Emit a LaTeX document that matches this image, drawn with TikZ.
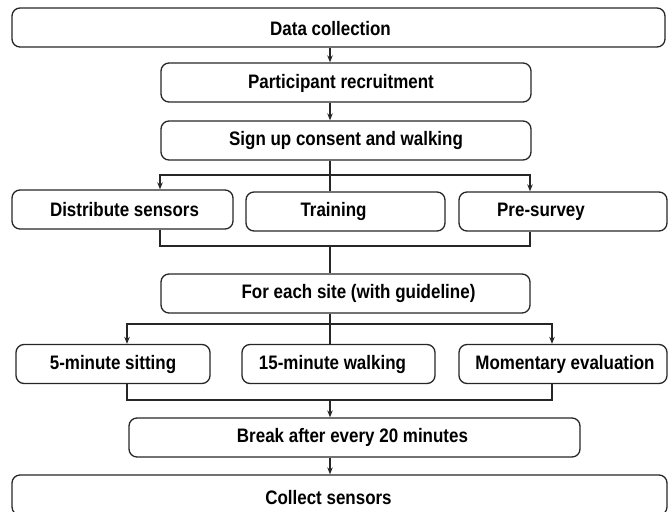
\documentclass[tikz,border=0pt]{standalone}
\usepackage{fontspec}
\setmainfont{Liberation Sans}
\newfontfamily\narrowfont[FakeStretch=0.87]{Liberation Sans}
\usetikzlibrary{arrows.meta}
\tikzset{
  box/.style={draw=black!85, line width=1.3pt, rounded corners=8pt, minimum height=39pt, inner sep=0pt},
  txt/.style={font=\narrowfont\fontsize{19.5}{22}\selectfont\bfseries},
  arr/.style={-{Stealth[length=7pt,width=5.5pt]}},
}
\begin{document}
\begin{tikzpicture}[x=1pt, y=-1pt]
      \useasboundingbox (0,0) rectangle (668,511);
      \node[box, minimum width=653pt, label={[txt, xshift=-8pt, yshift=-1pt]center:Data collection}] (data) at (338.5,27.5) {};
      \node[box, minimum width=370pt, label={[txt, xshift=-5pt, yshift=-1pt]center:Participant recruitment}] (recruit) at (346,82.5) {};
      \node[box, minimum width=370pt, label={[txt]center:Sign up consent and walking}] (sign) at (346,140.5) {};
      \node[box, minimum width=221pt, label={[txt, xshift=2pt]center:Distribute sensors}] (dist) at (122.5,209.5) {};
      \node[box, minimum width=199pt, label={[txt, xshift=-12pt]center:Training}] (train) at (345.5,211.5) {};
      \node[box, minimum width=208pt, label={[txt, xshift=-22pt]center:Pre-survey}] (pre) at (563,211.5) {};
      \node[box, minimum width=369pt, label={[txt, xshift=13pt]center:For each site (with guideline)}] (site) at (345.5,293.5) {};
      \node[box, minimum width=194pt, label={[txt]center:5-minute sitting}] (sit) at (113,364) {};
      \node[box, minimum width=193pt, label={[txt, xshift=-6pt]center:15-minute walking}] (walk) at (338.5,364) {};
      \node[box, minimum width=208pt, label={[txt, xshift=2pt]center:Momentary evaluation}] (eval) at (563,364) {};
      \node[box, minimum width=451pt, label={[txt, xshift=-2pt]center:Break after every 20 minutes}] (brk) at (354.5,437.5) {};
      \node[box, minimum width=655pt, minimum height=40pt, label={[txt, xshift=-11pt, yshift=-3pt]center:Collect sensors}] (coll) at (339.5,495) {};
      \coordinate (mid) at (330,0);
      \coordinate (s1) at (330,175);
      \coordinate (s1l) at (160,175);
      \coordinate (s1r) at (530,175);
      \coordinate (m1) at (330,246);
      \coordinate (s2) at (330,324);
      \coordinate (s2l) at (127,324);
      \coordinate (s2r) at (552,324);
      \coordinate (m2) at (330,400);
      \begin{scope}[draw=black!85, line width=1.1pt]
        \draw[arr] (data.south -| mid) to (recruit.north -| mid);
        \draw[arr] (recruit.south -| mid) to (sign.north -| mid);
        \draw (sign.south -| mid) to (train.north -| mid);
        \draw[arr] (s1) -- (s1l) -- (dist.north -| s1l);
        \draw[arr] (s1) -- (s1r) -- (pre.north -| s1r);
        \draw (dist.south -| s1l) |- (m1) -| (pre.south -| s1r);
        \draw (m1) to (site.north -| mid);
        \draw (site.south -| mid) to (walk.north -| mid);
        \draw[arr] (s2) -| (sit.north -| s2l);
        \draw[arr] (s2) -| (eval.north -| s2r);
        \draw (sit.south -| s2l) |- (m2) -| (eval.south -| s2r);
        \draw[arr] (m2) to (brk.north -| mid);
        \draw[arr] (brk.south -| mid) to (coll.north -| mid);
      \end{scope}
    \end{tikzpicture}
\end{document}
